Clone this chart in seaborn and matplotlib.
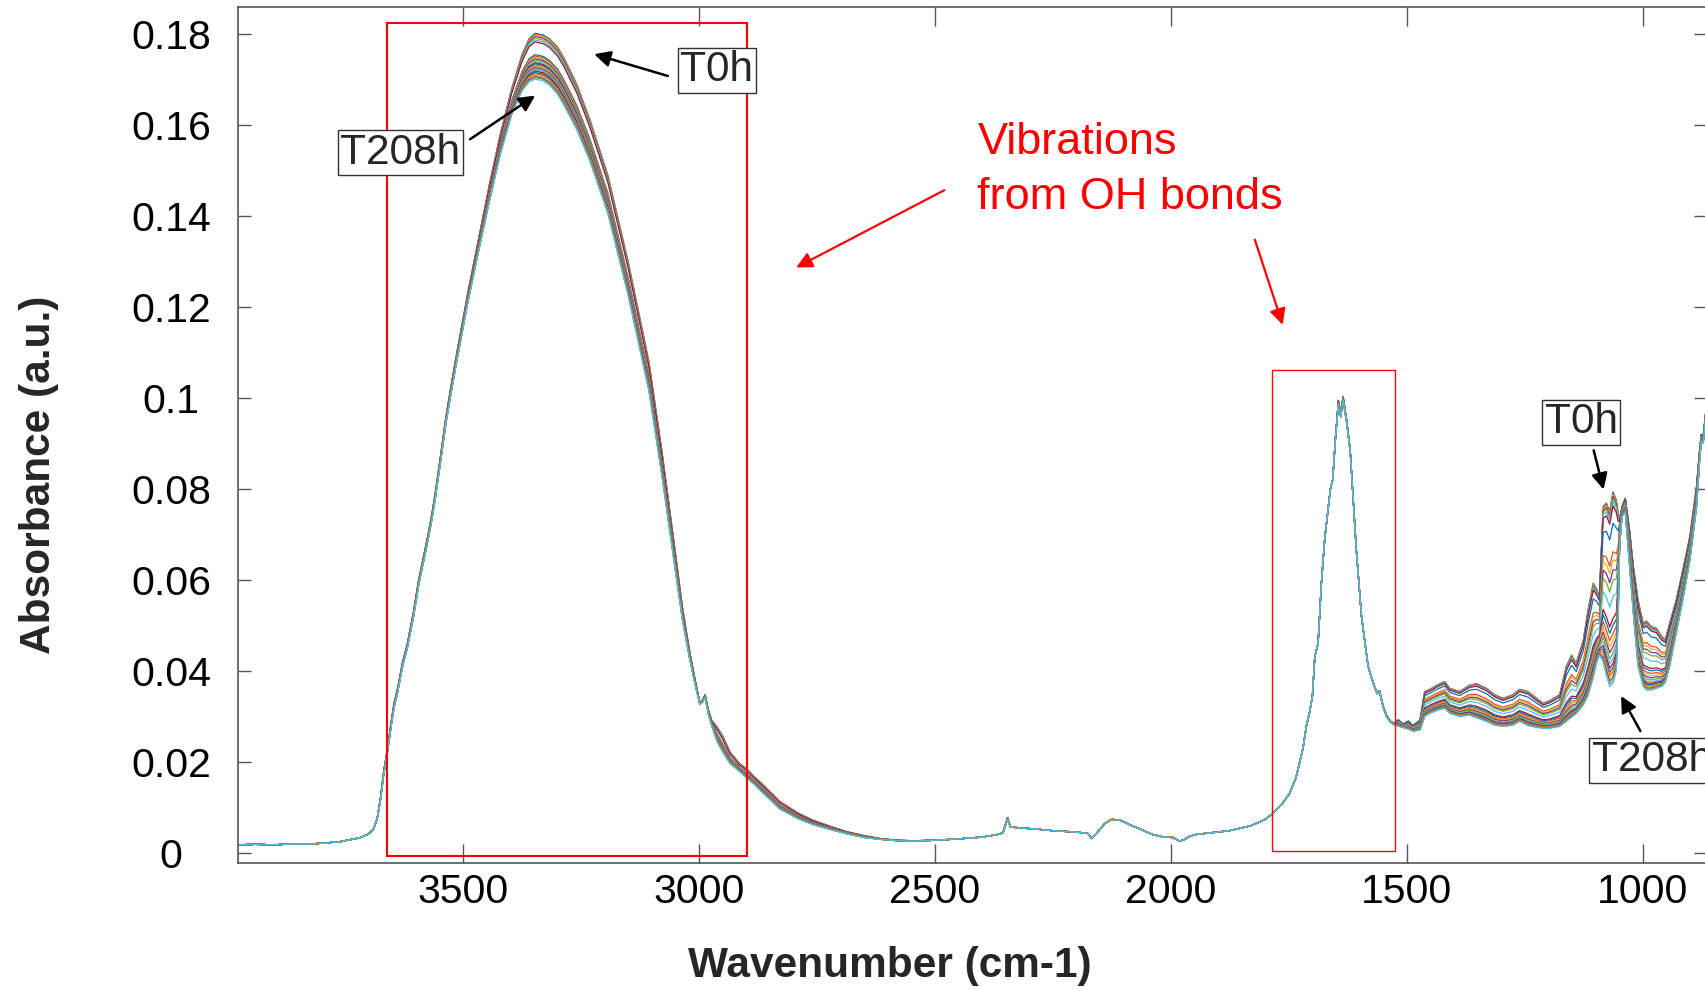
import numpy as np
import pandas as pd
import matplotlib
matplotlib.use("Agg")
import matplotlib.pyplot as plt
import seaborn as sns
from matplotlib.patches import Rectangle

# ---------------- data ----------------
wavenumber = [
    3977, 3940, 3900, 3860, 3820, 3792, 3760, 3741, 3720, 3700,
    3690, 3682, 3675, 3668, 3660, 3652, 3646, 3638, 3628, 3618,
    3605, 3594, 3582, 3574, 3566, 3559, 3548, 3536, 3524, 3513,
    3490, 3467, 3444, 3421, 3397, 3375, 3360, 3347, 3330, 3317,
    3300, 3287, 3259, 3231, 3193, 3150, 3106, 3078, 3050, 3035,
    3020, 3008, 2998, 2992, 2987, 2980, 2973, 2962, 2950, 2934,
    2915, 2899, 2880, 2864, 2828, 2790, 2758, 2720, 2687, 2650,
    2617, 2580, 2546, 2500, 2450, 2400, 2370, 2356, 2346, 2340,
    2320, 2290, 2250, 2200, 2176, 2168, 2160, 2140, 2125, 2107,
    2085, 2061, 2040, 2015, 1995, 1982, 1972, 1960, 1945, 1910,
    1876, 1830, 1800, 1784, 1765, 1749, 1735, 1727, 1720, 1713,
    1706, 1700, 1695, 1688, 1681, 1674, 1668, 1662, 1657, 1651,
    1645, 1640, 1635, 1628, 1620, 1607, 1596, 1582, 1570, 1563,
    1558, 1550, 1543, 1535, 1527, 1518, 1508, 1497, 1487, 1472,
    1462, 1451, 1434, 1420, 1409, 1388, 1367, 1352, 1331, 1314,
    1296, 1275, 1261, 1243, 1225, 1211, 1197, 1176, 1162, 1151,
    1141, 1126, 1116, 1105, 1098, 1092, 1084, 1077, 1070, 1063,
    1056, 1052, 1049, 1044, 1037, 1028, 1020, 1010, 999, 992,
    982, 971, 960, 952, 943, 929, 915, 900, 886, 880,
    876, 872, 866,
]

absorbance_T0h = [
    0.0018, 0.0019, 0.0018, 0.0020, 0.0020, 0.0022, 0.0025, 0.0029, 0.0033, 0.0042,
    0.0052, 0.0075, 0.0120, 0.0180, 0.0230, 0.0290, 0.0330, 0.0365, 0.0420, 0.0460,
    0.0530, 0.0600, 0.0660, 0.0700, 0.0745, 0.0790, 0.0870, 0.0960, 0.1035, 0.1100,
    0.1230, 0.1350, 0.1470, 0.1580, 0.1680, 0.1755, 0.1790, 0.1802, 0.1798, 0.1790,
    0.1772, 0.1750, 0.1690, 0.1612, 0.1490, 0.1300, 0.1080, 0.0880, 0.0660, 0.0540,
    0.0445, 0.0380, 0.0330, 0.0337, 0.0348, 0.0315, 0.0292, 0.0278, 0.0258, 0.0222,
    0.0198, 0.0185, 0.0165, 0.0150, 0.0113, 0.0088, 0.0072, 0.0058, 0.0047, 0.0038,
    0.0032, 0.0028, 0.0027, 0.0028, 0.0031, 0.0035, 0.0040, 0.0044, 0.0078, 0.0058,
    0.0055, 0.0053, 0.0049, 0.0046, 0.0043, 0.0032, 0.0040, 0.0065, 0.0074, 0.0072,
    0.0061, 0.0051, 0.0041, 0.0035, 0.0034, 0.0026, 0.0029, 0.0037, 0.0041, 0.0045,
    0.0049, 0.0060, 0.0074, 0.0087, 0.0107, 0.0130, 0.0165, 0.0200, 0.0230, 0.0278,
    0.0310, 0.0345, 0.0432, 0.0461, 0.0593, 0.0690, 0.0745, 0.0800, 0.0820, 0.0915,
    0.0995, 0.0968, 0.1003, 0.0955, 0.0886, 0.0666, 0.0520, 0.0410, 0.0370, 0.0352,
    0.0357, 0.0322, 0.0303, 0.0290, 0.0285, 0.0293, 0.0283, 0.0290, 0.0280, 0.0292,
    0.0355, 0.0360, 0.0370, 0.0377, 0.0362, 0.0355, 0.0369, 0.0372, 0.0362, 0.0348,
    0.0340, 0.0348, 0.0360, 0.0355, 0.0340, 0.0329, 0.0335, 0.0348, 0.0410, 0.0435,
    0.0417, 0.0468, 0.0534, 0.0593, 0.0580, 0.0564, 0.0761, 0.0769, 0.0751, 0.0794,
    0.0776, 0.0745, 0.0735, 0.0761, 0.0780, 0.0710, 0.0630, 0.0556, 0.0505, 0.0510,
    0.0498, 0.0494, 0.0476, 0.0470, 0.0505, 0.0556, 0.0622, 0.0696, 0.0806, 0.0880,
    0.0920, 0.0915, 0.0975,
]

absorbance_T208h = [
    0.0018, 0.0019, 0.0018, 0.0020, 0.0020, 0.0022, 0.0025, 0.0029, 0.0033, 0.0042,
    0.0052, 0.0075, 0.0115, 0.0172, 0.0222, 0.0280, 0.0320, 0.0355, 0.0410, 0.0450,
    0.0518, 0.0588, 0.0648, 0.0688, 0.0732, 0.0777, 0.0856, 0.0945, 0.1018, 0.1082,
    0.1208, 0.1322, 0.1432, 0.1535, 0.1622, 0.1675, 0.1695, 0.1701, 0.1697, 0.1688,
    0.1668, 0.1645, 0.1590, 0.1520, 0.1405, 0.1225, 0.1015, 0.0825, 0.0620, 0.0512,
    0.0428, 0.0370, 0.0326, 0.0332, 0.0342, 0.0305, 0.0280, 0.0245, 0.0222, 0.0196,
    0.0180, 0.0165, 0.0148, 0.0131, 0.0096, 0.0075, 0.0062, 0.0051, 0.0042, 0.0034,
    0.0030, 0.0027, 0.0026, 0.0028, 0.0031, 0.0035, 0.0040, 0.0044, 0.0074, 0.0057,
    0.0055, 0.0053, 0.0049, 0.0046, 0.0043, 0.0032, 0.0040, 0.0065, 0.0074, 0.0072,
    0.0061, 0.0051, 0.0041, 0.0035, 0.0034, 0.0026, 0.0029, 0.0037, 0.0041, 0.0045,
    0.0049, 0.0060, 0.0074, 0.0087, 0.0107, 0.0130, 0.0165, 0.0200, 0.0230, 0.0278,
    0.0310, 0.0345, 0.0432, 0.0461, 0.0593, 0.0690, 0.0745, 0.0800, 0.0820, 0.0915,
    0.0985, 0.0958, 0.0995, 0.0950, 0.0884, 0.0666, 0.0520, 0.0410, 0.0370, 0.0350,
    0.0355, 0.0320, 0.0300, 0.0288, 0.0282, 0.0279, 0.0276, 0.0272, 0.0268, 0.0270,
    0.0300, 0.0307, 0.0314, 0.0318, 0.0307, 0.0300, 0.0303, 0.0297, 0.0289, 0.0281,
    0.0278, 0.0281, 0.0289, 0.0280, 0.0276, 0.0274, 0.0274, 0.0278, 0.0289, 0.0298,
    0.0306, 0.0325, 0.0345, 0.0385, 0.0417, 0.0435, 0.0420, 0.0390, 0.0366, 0.0373,
    0.0400, 0.0520, 0.0674, 0.0739, 0.0750, 0.0630, 0.0527, 0.0410, 0.0366, 0.0358,
    0.0358, 0.0362, 0.0366, 0.0375, 0.0410, 0.0483, 0.0556, 0.0644, 0.0760, 0.0855,
    0.0905, 0.0900, 0.0960,
]

# one spectrum every 8 h of ageing, T0h ... T208h
ageing_hours = [0, 8, 16, 24, 32, 40, 48, 56, 64, 72, 80, 88, 96, 104,
                112, 120, 128, 136, 144, 152, 160, 168, 176, 184, 192, 200, 208]
# peak heights read for each spectrum (OH band ~3350 cm-1, band ~1063 cm-1)
oh_peak_height = [0.1802, 0.1800, 0.1798, 0.1795, 0.1791, 0.1787, 0.1783,
                  0.1755, 0.1752, 0.1749, 0.1746, 0.1743, 0.1740, 0.1737,
                  0.1735, 0.1732, 0.1730, 0.1727, 0.1724, 0.1722, 0.1719,
                  0.1716, 0.1713, 0.1710, 0.1707, 0.1704, 0.1701]
band_1063_height = [0.0794, 0.0791, 0.0788, 0.0784, 0.0779, 0.0772, 0.0763,
                    0.0725, 0.0662, 0.0644, 0.0622, 0.0600, 0.0564, 0.0516,
                    0.0501, 0.0483, 0.0468, 0.0454, 0.0440, 0.0428, 0.0417,
                    0.0408, 0.0400, 0.0393, 0.0386, 0.0379, 0.0373]

x_ticks = [3500, 3000, 2500, 2000, 1500, 1000]
y_ticks = [0, 0.02, 0.04, 0.06, 0.08, 0.1, 0.12, 0.14, 0.16, 0.18]
y_tick_labels = ["0", "0.02", "0.04", "0.06", "0.08", "0.1", "0.12", "0.14", "0.16", "0.18"]

matlab_colors = ["#0072BD", "#D95319", "#EDB120", "#7E2F8E",
                 "#77AC30", "#4DBEEE", "#A2142F"]

assert len(wavenumber) == len(absorbance_T0h) == len(absorbance_T208h)

# ---------------- build long table ----------------
w = np.array(wavenumber, dtype=float)
a0 = np.array(absorbance_T0h)
a1 = np.array(absorbance_T208h)
frames = []
for i, h in enumerate(ageing_hours):
    f_oh = (oh_peak_height[i] - oh_peak_height[-1]) / (oh_peak_height[0] - oh_peak_height[-1])
    f_fp = (band_1063_height[i] - band_1063_height[-1]) / (band_1063_height[0] - band_1063_height[-1])
    frac = np.where(w >= 2000, f_oh, f_fp)
    frames.append(pd.DataFrame({"wavenumber": w,
                                "absorbance": a1 + frac * (a0 - a1),
                                "sample": f"T{h}h"}))
df = pd.concat(frames, ignore_index=True)

# ---------------- figure ----------------
sns.set_style("white")
plt.rcParams["font.family"] = ["Liberation Sans", "DejaVu Sans"]

fig = plt.figure(figsize=(17.06, 9.9), dpi=100)
ax = fig.add_axes([0.13945, 0.12828, 0.86055, 0.86435])

palette = [matlab_colors[i % len(matlab_colors)] for i in range(len(ageing_hours))]
sns.lineplot(data=df, x="wavenumber", y="absorbance", hue="sample",
             palette=palette, legend=False, estimator=None, linewidth=0.9, ax=ax)

ax.set_xlim(3977, 866)
ax.set_ylim(-0.0022, 0.1859)
ax.set_xticks(x_ticks)
ax.set_xticklabels([str(t) for t in x_ticks])
ax.set_yticks(y_ticks)
ax.set_yticklabels(y_tick_labels)

spine_col = "#555555"
for s in ax.spines.values():
    s.set_visible(True)
    s.set_color(spine_col)
    s.set_linewidth(1.2)
ax.tick_params(axis="x", direction="in", length=14, width=1.0, color=spine_col,
               top=True, bottom=True, labelsize=29.5, pad=7, labelcolor="black")
ax.tick_params(axis="y", direction="in", length=9, width=1.0, color=spine_col,
               left=True, right=True, labelsize=29.5, pad=48, labelcolor="black")
for lab in ax.get_yticklabels():
    lab.set_horizontalalignment("center")

ax.set_xlabel("Wavenumber (cm-1)", fontsize=30.5, fontweight="bold", va="center")
ax.xaxis.set_label_coords(0.4442, -0.1207)
ax.set_ylabel("Absorbance (a.u.)", fontsize=30.5, fontweight="bold", va="center")
ax.yaxis.set_label_coords(-0.1355, 0.4535)

# red highlight boxes
ax.add_patch(Rectangle((2899, -0.0007), 3660 - 2899, 0.1824 + 0.0007,
                       fill=False, ec="red", lw=1.5, zorder=5))
ax.add_patch(Rectangle((1526, 0.0005), 1786 - 1526, 0.1062 - 0.0005,
                       fill=False, ec="red", lw=1.0, zorder=5))

# red text + arrows
ax.text(2410, 0.1606, "Vibrations\nfrom OH bonds", color="red", fontsize=32.5,
        ha="left", va="top", linespacing=1.43, zorder=6)
red_arrow = dict(arrowstyle="-|>", color="red", lw=1.6, mutation_scale=24,
                 shrinkA=0, shrinkB=0)
ax.annotate("", xy=(2794, 0.1287), xytext=(2480, 0.1457), arrowprops=red_arrow, zorder=6)
ax.annotate("", xy=(1763, 0.1161), xytext=(1822, 0.1348), arrowprops=red_arrow, zorder=6)

# black labelled arrows
blk_arrow = dict(arrowstyle="-|>", color="black", lw=1.8, mutation_scale=24,
                 shrinkA=0, shrinkB=0)
box = dict(boxstyle="square,pad=0.06", fc="white", ec="#333333", lw=1.0)
labels = [("T0h", (2962, 0.1721), (3066, 0.1708), (3222, 0.1756)),
          ("T208h", (3633, 0.1539), (3485, 0.1569), (3347, 0.1665)),
          ("T0h", (1130, 0.0947), (1104, 0.0885), (1083, 0.0799)),
          ("T208h", (981, 0.0204), (1005, 0.0268), (1046, 0.0345))]
for txt, pos, start, end in labels:
    ax.annotate("", xy=end, xytext=start, arrowprops=blk_arrow, zorder=7)
    ax.text(pos[0], pos[1], txt, fontsize=30.5, ha="center", va="center",
            bbox=box, zorder=8, clip_on=False)

fig.savefig("out.png", dpi=100)
